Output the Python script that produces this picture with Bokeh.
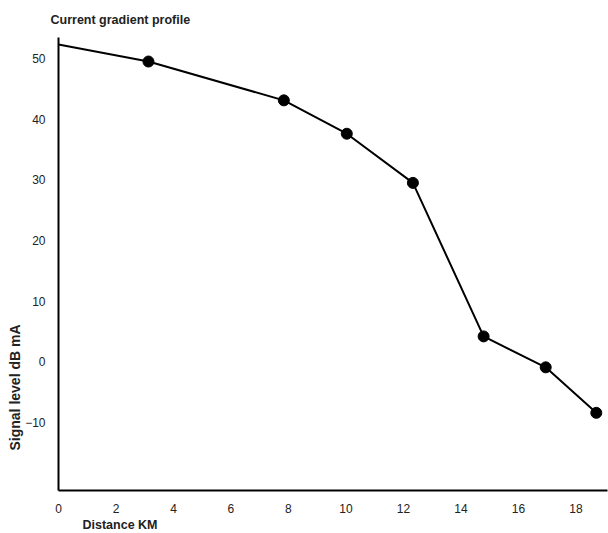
from bokeh.plotting import figure
from bokeh.models import Title, Range1d, FixedTicker
from bokeh.embed import file_html
from bokeh.resources import INLINE

distance_km = [0, 3.13, 7.84, 10.03, 12.33, 14.79, 16.95, 18.71]
signal_db = [52.3, 49.5, 43.1, 37.6, 29.5, 4.2, -0.9, -8.4]
x_ticks = [0, 2, 4, 6, 8, 10, 12, 14, 16, 18]
y_ticks = [-10, 0, 10, 20, 30, 40, 50]

FONT = "Liberation Sans"

p = figure(width=608, height=533, output_backend="svg", toolbar_location=None,
           x_range=Range1d(0, 19.1), y_range=Range1d(-21.2, 53.46),
           min_border_left=58, min_border_right=1, min_border_top=36, min_border_bottom=43)
p.title.text = "Current gradient profile"
p.title.text_font = FONT
p.title.text_font_size = "12.5px"
p.title.text_font_style = "bold"
p.title.text_color = "#222222"
p.title.align = "left"
p.title.offset = -8
p.title.standoff = 21

p.grid.visible = False
p.outline_line_color = None

p.line(distance_km, signal_db, line_color="black", line_width=2)
p.scatter(distance_km[1:], signal_db[1:], size=11, fill_color="black", line_color="black")

for ax in (p.xaxis[0], p.yaxis[0]):
    ax.axis_line_color = "black"
    ax.axis_line_width = 2
    ax.major_tick_line_color = None
    ax.minor_tick_line_color = None
    ax.major_tick_out = 0
    ax.major_tick_in = 0
    ax.minor_tick_out = 0
    ax.major_label_text_font = FONT
    ax.major_label_text_font_size = "12px"
    ax.major_label_text_color = "#222222"

p.xaxis[0].ticker = FixedTicker(ticks=x_ticks)
p.yaxis[0].ticker = FixedTicker(ticks=y_ticks)
p.xaxis[0].major_label_standoff = 13
p.yaxis[0].major_label_standoff = 13

xl = Title(text="Distance KM", align="left", offset=24, text_font=FONT,
           text_font_size="12.5px", text_font_style="bold", text_color="#222222", standoff=0)
p.add_layout(xl, "below")

yl = Title(text="Signal level dB mA", align="left", offset=40, text_font=FONT,
           text_font_size="14px", text_font_style="bold", text_color="#222222", standoff=0)
p.add_layout(yl, "left")

open("out.html", "w").write(file_html(p, INLINE))
